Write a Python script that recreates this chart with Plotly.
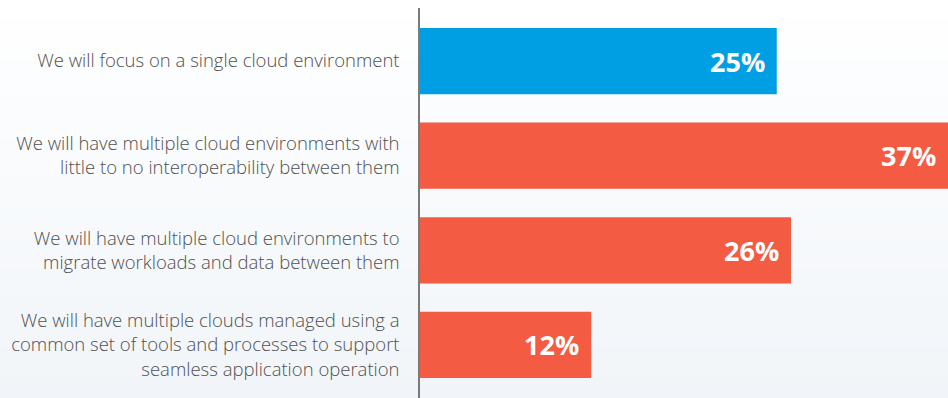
import plotly.graph_objects as go

categories = [
    "We will focus on a single cloud environment",
    "We will have multiple cloud environments with<br>little to no interoperability between them",
    "We will have multiple cloud environments to<br>migrate workloads and data between them",
    "We will have multiple clouds managed using a<br>common set of tools and processes to support<br>seamless application operation",
]
values = [25, 37, 26, 12]
bar_colors = ["#009fe3", "#f35b42", "#f35b42", "#f35b42"]
value_labels = ["25%", "37%", "26%", "12%"]

W, H = 948, 398
L, R, T, B = 420, 0, 8, 0
pw, ph = W - L - R, H - T - B

fig = go.Figure()
fig.add_trace(go.Bar(
    y=categories, x=values, orientation="h",
    marker=dict(color=bar_colors, line=dict(width=0)),
    width=0.70, hoverinfo="skip",
))

for v, c, t in zip(values, categories, value_labels):
    fig.add_annotation(
        x=v, y=c, text=t, showarrow=False, xanchor="right", yanchor="middle",
        xshift=-10, font=dict(family="Open Sans", size=27, color="white", weight="bold"),
    )

# subtle vertical background gradient (white -> light blue-grey)
n = 40
top = (255, 255, 255)
bot = (241, 245, 249)
y0p, y1p = -B / ph, 1 + T / ph
for i in range(n):
    f = i / (n - 1)
    col = tuple(round(top[k] + (bot[k] - top[k]) * f) for k in range(3))
    ya = y1p - (y1p - y0p) * i / n
    yb = y1p - (y1p - y0p) * (i + 1) / n
    fig.add_shape(type="rect", xref="paper", yref="paper",
                  x0=-L / pw, x1=1 + R / pw, y0=yb, y1=ya + 0.002,
                  fillcolor="rgb(%d,%d,%d)" % col, line=dict(width=0), layer="below")

fig.update_layout(
    width=W, height=H,
    margin=dict(l=L, r=R, t=T, b=B, pad=0),
    paper_bgcolor="white", plot_bgcolor="rgba(0,0,0,0)",
    showlegend=False,
    font=dict(family="Open Sans", color="#505050"),
    xaxis=dict(visible=False, range=[0, 37], fixedrange=True),
    yaxis=dict(
        autorange=False, range=[3.56, -0.56], type="category",
        showline=True, linecolor="#7a7a7a", linewidth=1.5,
        showgrid=False, zeroline=False, ticks="",
        ticklabelstandoff=15,
        tickfont=dict(family="Open Sans", size=18.5, color="#505050", weight=300),
    ),
)

fig.write_html("out.html")
